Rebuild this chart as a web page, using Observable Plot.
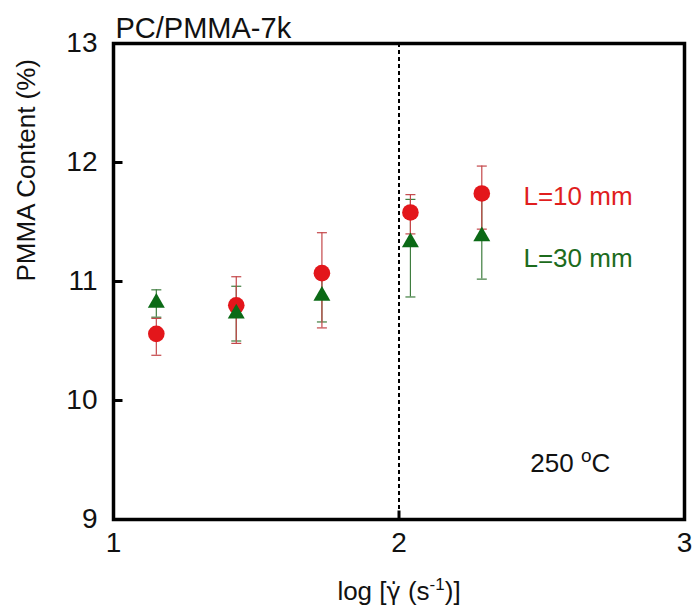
<!DOCTYPE html>
<html>
<head>
<meta charset="utf-8">
<script src="https://cdn.jsdelivr.net/npm/d3@7"></script>
<script src="https://cdn.jsdelivr.net/npm/@observablehq/plot@0.6"></script>
<style>
  body { margin: 0; background: #fff; }
  svg { font-family: "Liberation Sans", Arial, sans-serif; }
</style>
</head>
<body>
<div id="chart"></div>
<script>
// ---- data ----
const shearLog = [1.15, 1.43, 1.73, 2.04, 2.29];
const red10 = [10.56, 10.80, 11.07, 11.58, 11.74];
const red10Lo = [10.38, 10.48, 10.61, 11.40, 11.44];
const red10Hi = [10.69, 11.04, 11.41, 11.73, 11.97];
const green30 = [10.82, 10.73, 10.88, 11.33, 11.38];
const green30Lo = [10.70, 10.50, 10.66, 10.87, 11.02];
const green30Hi = [10.93, 10.96, 11.02, 11.69, 11.70];
const xTicks = [1, 2, 3];
const yTicks = [9, 10, 11, 12, 13];
const innerYTicks = [10, 11, 12];
const dividerX = [2];
const seriesLabels = ["L=10 mm", "L=30 mm"];
const seriesLabelX = [2.436, 2.436];
const seriesLabelY = [11.71, 11.19];
const tempLabel = "250 oC";
const tempX = [2.46];
const tempY = [9.47];
const titleText = "PC/PMMA-7k";
const xLabel = "log [γ̇ (s-1)]";
const yLabel = "PMMA Content (%)";

const RED = "#e3161b";
const RED_BAR = "#c4474a";
const GREEN = "#0b6a16";
const GREEN_BAR = "#3f7d3f";

const rows = (ys, lo, hi) => shearLog.map((x, i) => ({x, y: ys[i], lo: lo[i], hi: hi[i]}));
const redRows = rows(red10, red10Lo, red10Hi);
const greenRows = rows(green30, green30Lo, green30Hi);

const capSymbol = {draw(ctx) { ctx.moveTo(-5, 0); ctx.lineTo(5, 0); }};
const yTickSymbol = {draw(ctx) { ctx.moveTo(0, 0); ctx.lineTo(9, 0); }};
const xTickSymbol = {draw(ctx) { ctx.moveTo(0, 0); ctx.lineTo(0, -9); }};

function errorMarks(data, color) {
  return [
    Plot.ruleX(data, {x: "x", y1: "lo", y2: "hi", stroke: color, strokeWidth: 1.2}),
    Plot.dot(data, {x: "x", y: "lo", symbol: capSymbol, stroke: color, fill: "none", strokeWidth: 1.2}),
    Plot.dot(data, {x: "x", y: "hi", symbol: capSymbol, stroke: color, fill: "none", strokeWidth: 1.2})
  ];
}

const chart = Plot.plot({
  width: 692,
  height: 614,
  marginLeft: 113,
  marginRight: 8,
  marginTop: 43,
  marginBottom: 95,
  x: {domain: [1, 3], ticks: xTicks},
  y: {domain: [9, 13], ticks: yTicks},
  style: {fontFamily: "Liberation Sans, Arial, sans-serif", background: "#fff", overflow: "visible"},
  marks: [
    Plot.axisX({ticks: xTicks, tickSize: 0, tickPadding: 13, fontSize: 28, label: null, tickFormat: d3.format("d"), color: "#111"}),
    Plot.axisY({ticks: yTicks, tickSize: 0, tickPadding: 16, fontSize: 28, label: null, tickFormat: d3.format("d"), color: "#111"}),
    Plot.dot(innerYTicks, {x: 1, y: d => d, symbol: yTickSymbol, stroke: "#000", fill: "none", strokeWidth: 3}),
    Plot.dot(dividerX, {x: d => d, y: 9, symbol: xTickSymbol, stroke: "#000", fill: "none", strokeWidth: 3}),
    Plot.ruleX(dividerX, {x: d => d, stroke: "#000", strokeWidth: 2, strokeDasharray: "4,3"}),
    ...errorMarks(greenRows, GREEN_BAR),
    ...errorMarks(redRows, RED_BAR),
    Plot.dot(redRows, {x: "x", y: "y", r: 8.3, fill: RED, stroke: "none"}),
    Plot.dot(greenRows, {x: "x", y: "y", r: 6.3, symbol: "triangle", fill: GREEN, stroke: "none"}),
    Plot.text(seriesLabels, {x: (d, i) => seriesLabelX[i], y: (d, i) => seriesLabelY[i], text: d => d,
      fill: (d, i) => i === 0 ? "#e01e1e" : "#1c6b1c", textAnchor: "start", fontSize: 26}),
    Plot.text([tempLabel], {x: tempX[0], y: tempY[0], text: d => d, textAnchor: "start", fontSize: 26, fill: "#111"}),
    Plot.text([titleText], {frameAnchor: "top-left", dy: -26, dx: 2, text: d => d, textAnchor: "start", fontSize: 29, fill: "#111"}),
    Plot.text([xLabel], {frameAnchor: "bottom", dy: 80, text: d => d, fontSize: 26, fill: "#111"}),
    Plot.text([yLabel], {frameAnchor: "left", dx: -87, rotate: -90, text: d => d, fontSize: 26, fill: "#111"}),
    Plot.frame({stroke: "#000", strokeWidth: 3.5})
  ]
});

document.getElementById("chart").appendChild(chart);

// superscripts and the dotted gamma
d3.select(chart).selectAll("text").each(function () {
  const t = this.textContent;
  const el = d3.select(this);
  if (t === xLabel) {
    el.text(null);
    el.append("tspan").text("log [");
    el.append("tspan").attr("font-family", "DejaVu Sans").attr("font-size", 24).text("γ̇");
    el.append("tspan").text(" (s");
    el.append("tspan").attr("font-size", 17).attr("dy", "-0.55em").text("-1");
    el.append("tspan").attr("dy", "0.36em").text(")]");
  } else if (t === tempLabel) {
    el.text(null);
    el.append("tspan").text("250 ");
    el.append("tspan").attr("font-size", 19).attr("dy", "-0.5em").text("o");
    el.append("tspan").attr("dy", "0.37em").text("C");
  }
});
</script>
</body>
</html>
